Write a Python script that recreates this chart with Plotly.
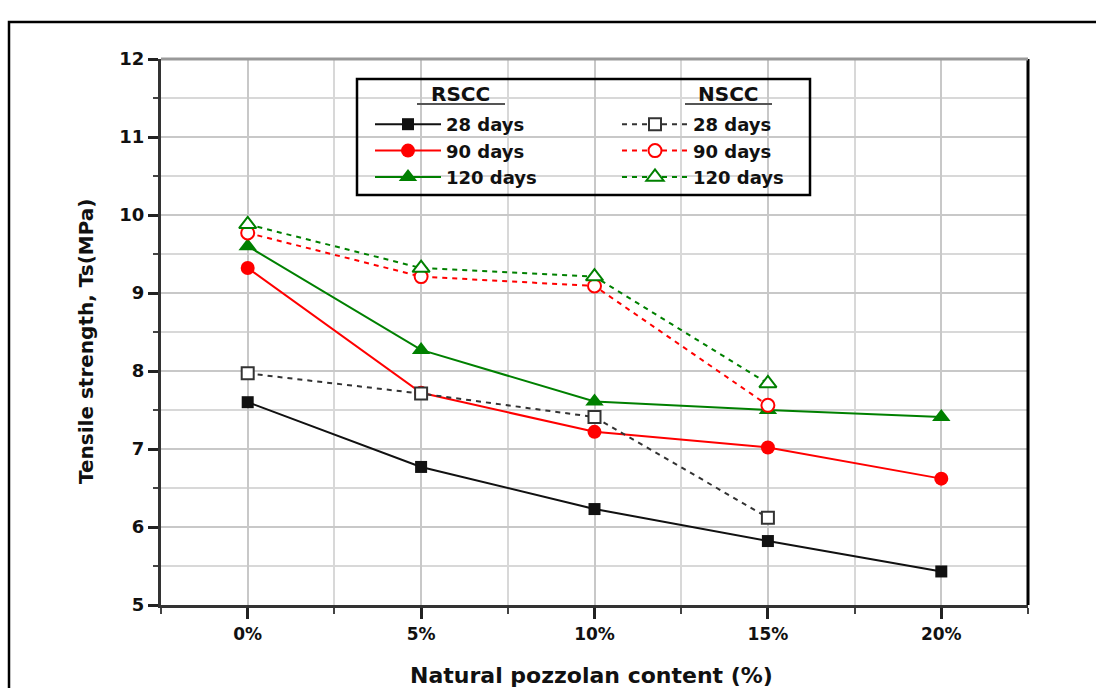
import plotly.graph_objects as go

# Pozzolan replacement levels (%) and tensile strength (MPa)
pozzolan = [0, 5, 10, 15, 20]
tick_labels = ["0%", "5%", "10%", "15%", "20%"]

rscc_28 = [7.60, 6.77, 6.23, 5.82, 5.43]
rscc_90 = [9.32, 7.72, 7.22, 7.02, 6.62]
rscc_120 = [9.60, 8.27, 7.61, 7.50, 7.41]

nscc_28 = [7.97, 7.71, 7.41, 6.12]
nscc_90 = [9.77, 9.21, 9.09, 7.56]
nscc_120 = [9.88, 9.32, 9.21, 7.84]

FONT = "DejaVu Sans, Arial, sans-serif"
W, H = 1096, 688
L, R, T, B = 161, 68, 59, 83
PW, PH = W - L - R, H - T - B


def px_x(px):
    return (px - L) / PW


def px_y(py):
    return (H - B - py) / PH


fig = go.Figure()

series = [
    ("28 days", pozzolan, rscc_28, "#111111", "square", 12, "solid", "legend", None),
    ("90 days", pozzolan, rscc_90, "#ff0000", "circle", 14, "solid", "legend", None),
    ("120 days", pozzolan, rscc_120, "#008000", "triangle-up", 16, "solid", "legend", None),
    ("28 days", pozzolan[:4], nscc_28, "#333333", "square", 12, "5px,5px", "legend2", "white"),
    ("90 days", pozzolan[:4], nscc_90, "#ff0000", "circle", 13, "5px,5px", "legend2", "white"),
    ("120 days", pozzolan[:4], nscc_120, "#008000", "triangle-up", 15, "5px,5px", "legend2", "white"),
]

for name, xs, ys, color, sym, size, dash, leg, fill in series:
    fig.add_trace(go.Scatter(
        x=xs, y=ys, name=name, mode="lines+markers",
        line=dict(color=color, width=2, dash=dash),
        marker=dict(symbol=sym, size=size,
                    color=fill if fill else color,
                    line=dict(color=color, width=2 if fill else 0)),
        legend=leg,
    ))

axis_font = dict(family=FONT, size=17, color="#111111", weight="bold")

fig.update_xaxes(
    range=[-2.5, 22.5], tickmode="array", tickvals=pozzolan, ticktext=tick_labels,
    tickfont=axis_font, ticks="outside", ticklen=11, tickwidth=3, tickcolor="#222222",
    ticklabelstandoff=1, automargin=False,
    showline=True, linecolor="#333333", linewidth=3,
    showgrid=True, gridcolor="#c8c8c8", gridwidth=2, zeroline=False,
    minor=dict(dtick=2.5, tick0=0, ticks="outside", ticklen=6, tickwidth=2,
               tickcolor="#444444", showgrid=True, gridcolor="#d8d8d8", gridwidth=2),
)
fig.update_yaxes(
    range=[5, 12], dtick=1, tick0=5, automargin=False,
    tickfont=dict(family=FONT, size=18, color="#111111", weight="bold"),
    ticks="outside", ticklen=10, tickwidth=3, tickcolor="#222222",
    showline=True, linecolor="#333333", linewidth=3,
    showgrid=True, gridcolor="#c8c8c8", gridwidth=2, zeroline=False,
    minor=dict(dtick=0.5, tick0=5, ticks="outside", ticklen=5, tickwidth=2,
               tickcolor="#444444", showgrid=True, gridcolor="#d8d8d8", gridwidth=2),
)

# Axis titles
fig.add_annotation(text="Natural pozzolan content (%)", xref="paper", yref="paper",
                   x=px_x(591), y=px_y(675), showarrow=False,
                   xanchor="center", yanchor="middle",
                   font=dict(family=FONT, size=22, color="#111111", weight="bold"))
fig.add_annotation(text="Tensile strength, Ts(MPa)", xref="paper", yref="paper",
                   x=px_x(86), y=px_y(342), showarrow=False, textangle=-90,
                   xanchor="center", yanchor="middle",
                   font=dict(family=FONT, size=20, color="#111111", weight="bold"))

legend_font = dict(family=FONT, size=18, color="#111111", weight="bold")
common_legend = dict(font=legend_font, bgcolor="rgba(0,0,0,0)", borderwidth=0,
                     itemwidth=66, tracegroupgap=0, xanchor="left", yanchor="top",
                     itemsizing="trace")
fig.update_layout(
    legend=dict(x=px_x(370), y=px_y(106), **common_legend),
    legend2=dict(x=px_x(617), y=px_y(106), **common_legend),
)

shapes = [
    # outer figure frame
    dict(type="rect", xref="paper", yref="paper",
         x0=px_x(9), x1=px_x(1140), y0=px_y(720), y1=px_y(22),
         line=dict(color="black", width=2.5), layer="below"),
    # right plot edge
    dict(type="line", xref="paper", yref="paper", x0=1, x1=1, y0=0, y1=1,
         line=dict(color="black", width=3)),
    # top plot edge
    dict(type="line", xref="paper", yref="paper", x0=0, x1=1, y0=1, y1=1,
         line=dict(color="#999999", width=3)),
    # legend frame
    dict(type="rect", xref="paper", yref="paper",
         x0=px_x(357), x1=px_x(810), y0=px_y(195), y1=px_y(79),
         line=dict(color="black", width=2.5), fillcolor="rgba(255,255,255,0)"),
    # header underlines
    dict(type="line", xref="paper", yref="paper", x0=px_x(417), x1=px_x(505),
         y0=px_y(104), y1=px_y(104), line=dict(color="#555555", width=2)),
    dict(type="line", xref="paper", yref="paper", x0=px_x(685), x1=px_x(772),
         y0=px_y(104), y1=px_y(104), line=dict(color="#555555", width=2)),
]
fig.update_layout(shapes=shapes)

header_font = dict(family=FONT, size=20, color="#111111", weight="bold")
for text, cx in [("RSCC", 460), ("NSCC", 728)]:
    fig.add_annotation(text=text, xref="paper", yref="paper", x=px_x(cx), y=px_y(94),
                       showarrow=False, font=header_font, xanchor="center", yanchor="middle")

fig.update_layout(
    width=W, height=H,
    margin=dict(l=L, r=R, t=T, b=B),
    paper_bgcolor="white", plot_bgcolor="white",
    font=dict(family=FONT),
)

fig.write_html("out.html")
